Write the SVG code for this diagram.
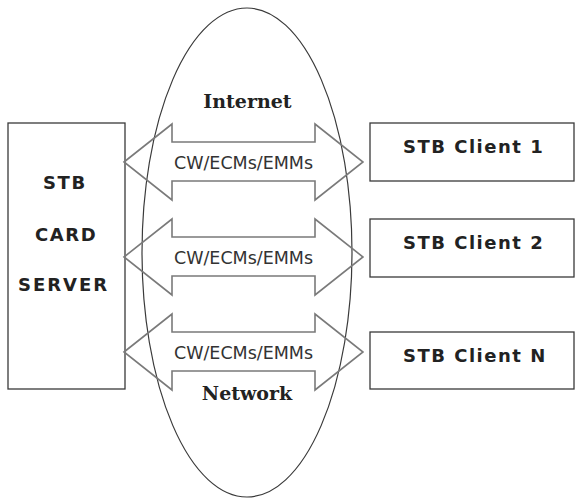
<svg xmlns="http://www.w3.org/2000/svg" width="576" height="501" viewBox="0 0 576 501">
<style>
.box{fill:#fff;stroke:#3a3a3a;stroke-width:1.3}
.cloud{fill:none;stroke:#3a3a3a;stroke-width:1.2}
.arrow{fill:none;stroke:#7a7a7a;stroke-width:1.6;stroke-linejoin:miter}
.lbl{font-family:"DejaVu Sans",Verdana,sans-serif;font-size:17.5px;fill:#333;text-anchor:middle}
.bold{font-family:"DejaVu Sans",Verdana,sans-serif;font-size:18px;font-weight:bold;fill:#222}
.net{font-family:"DejaVu Serif",serif;font-size:19px;font-weight:bold;fill:#222;text-anchor:middle}
</style>
<rect width="576" height="501" fill="#fff"/>
<g id="network">
<ellipse class="cloud" cx="247" cy="252.5" rx="105" ry="244.5"/>
<text class="net" x="247.5" y="108">Internet</text>
<text class="net" x="247" y="400">Network</text>
</g>
<g id="server">
<rect class="box" x="8" y="123" width="117" height="266"/>
<text class="bold" x="43" y="189" letter-spacing="1.6">STB</text>
<text class="bold" x="35" y="241" letter-spacing="1.6">CARD</text>
<text class="bold" x="18" y="291" letter-spacing="2">SERVER</text>
</g>
<g id="client1">
<rect class="box" x="370" y="123" width="204" height="58"/>
<text class="bold" x="403" y="153" letter-spacing="1.5">STB Client 1</text>
</g>
<g id="client2">
<rect class="box" x="370" y="219" width="204" height="58"/>
<text class="bold" x="403" y="249" letter-spacing="1.5">STB Client 2</text>
</g>
<g id="clientN">
<rect class="box" x="370" y="332" width="204" height="57"/>
<text class="bold" x="403" y="362" letter-spacing="1.5">STB Client N</text>
</g>
<g id="connectors">
<path class="arrow" d="M124,162 L172,124 L172,142 L315,142 L315,124 L363,162 L315,200 L315,181 L172,181 L172,200 Z"/>
<text class="lbl" x="243.5" y="169">CW/ECMs/EMMs</text>
<path class="arrow" d="M124,257 L172,219 L172,237 L315,237 L315,219 L363,257 L315,295 L315,276 L172,276 L172,295 Z"/>
<text class="lbl" x="243.5" y="264">CW/ECMs/EMMs</text>
<path class="arrow" d="M124,352 L172,314 L172,332 L315,332 L315,314 L363,352 L315,390 L315,371 L172,371 L172,390 Z"/>
<text class="lbl" x="243.5" y="359">CW/ECMs/EMMs</text>
</g>
</svg>
